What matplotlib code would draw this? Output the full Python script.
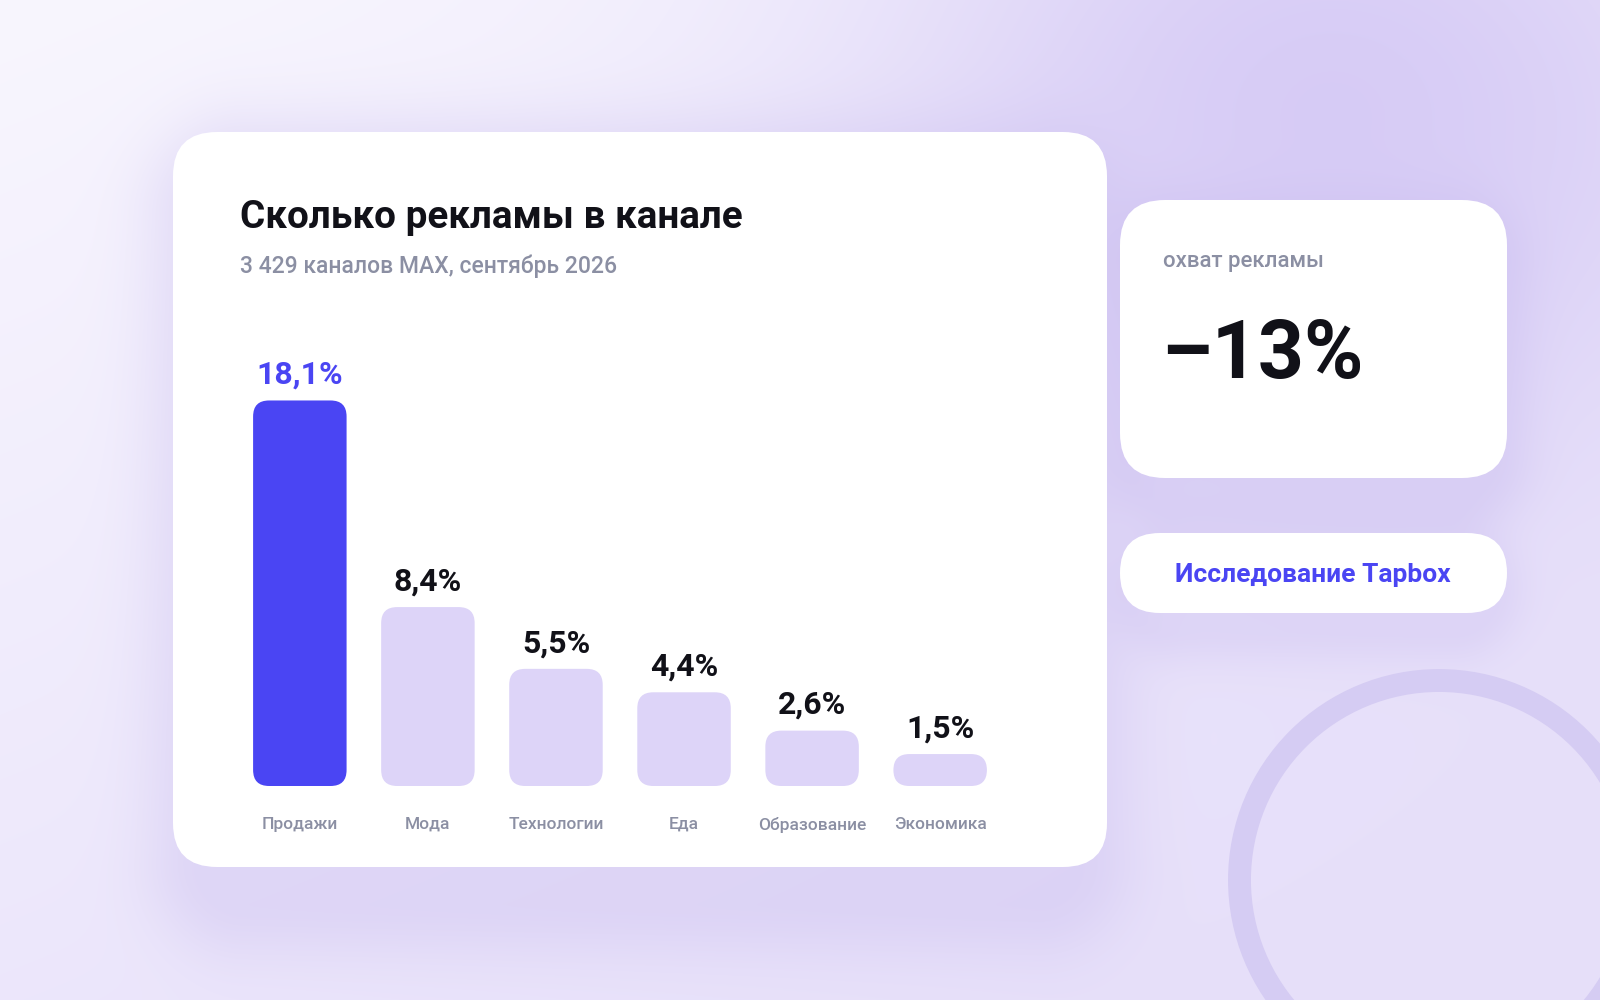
import numpy as np
import matplotlib
matplotlib.use("Agg")
import matplotlib.pyplot as plt
from matplotlib.patches import FancyBboxPatch, Circle

plt.rcParams['font.family'] = ['Roboto', 'DejaVu Sans']

# data
categories = ['Продажи', 'Мода', 'Технологии', 'Еда', 'Образование', 'Экономика']
values = [18.1, 8.4, 5.5, 4.4, 2.6, 1.5]
value_labels = ['18,1%', '8,4%', '5,5%', '4,4%', '2,6%', '1,5%']
title = 'Сколько рекламы в канале'
subtitle = '3 429 каналов MAX, сентябрь 2026'
kpi_caption = 'охват рекламы'
kpi_value = '–13%'
badge_text = 'Исследование Tapbox'

BLUE = '#4A45F3'
LILAC = '#DDD4F8'
GREY = '#8B8FA3'
INK = '#111118'

W, H = 1600, 1000
fig = plt.figure(figsize=(16, 10), dpi=100)

# background (pixel coords, y down)
bg = fig.add_axes([0, 0, 1, 1])
bg.set_xlim(0, W)
bg.set_ylim(H, 0)
bg.axis('off')

yy, xx = np.mgrid[0:H, 0:W].astype(float)
light = np.array([248, 246, 254]) / 255
low = np.array([231, 224, 250]) / 255
purple = np.array([212, 200, 245]) / 255
t = np.clip(yy / H * 0.7 + xx / W * 0.45, 0, 1)[..., None]
img = light * (1 - t) + low * t
blob = np.exp(-((xx - 1330) ** 2 + ((yy - 110) * 1.2) ** 2) / (2 * 330 ** 2))[..., None]
img = img * (1 - 0.9 * blob) + purple * 0.9 * blob


def rr_dist(x0, y0, x1, y1, r):
    dx = np.maximum.reduce([x0 + r - xx, np.zeros_like(xx), xx - (x1 - r)])
    dy = np.maximum.reduce([y0 + r - yy, np.zeros_like(yy), yy - (y1 - r)])
    return np.sqrt(dx ** 2 + dy ** 2) - r


shadow_col = np.array([200, 187, 238]) / 255
for (x0, y0, x1, y1, r, off, s, a) in [(200, 132, 1080, 867, 44, 36, 42, 0.38),
                                       (1135, 200, 1492, 478, 45, 24, 30, 0.4),
                                       (1135, 533, 1492, 613, 40, 18, 24, 0.3)]:
    d = np.maximum(rr_dist(x0, y0 + off, x1, y1 + off, r), 0)
    al = (a * np.exp(-d ** 2 / (2 * s ** 2)))[..., None]
    img = img * (1 - al) + shadow_col * al

bg.imshow(img, extent=(0, W, H, 0), aspect='auto', zorder=0, interpolation='bilinear')

# ring decoration
bg.add_patch(Circle((1439, 880), 199.5, fill=False, lw=16.5, ec='#D5CCF3', zorder=1))

# cards
for (x0, y0, x1, y1, r) in [(173, 132, 1107, 867, 44),
                            (1120, 200, 1507, 478, 45),
                            (1120, 533, 1507, 613, 40)]:
    bg.add_patch(FancyBboxPatch((x0, y0), x1 - x0, y1 - y0,
                                boxstyle=f'round,pad=0,rounding_size={r}',
                                fc='white', ec='none', zorder=2))

bg.text(240, 228, title, fontsize=27.8, fontweight='bold', color=INK, zorder=3)
bg.text(240, 273, subtitle, fontsize=16.5, fontweight='medium', color=GREY, zorder=3)

bg.text(1163, 267, kpi_caption, fontsize=16, fontweight='medium', color=GREY, zorder=3)
bg.text(1161, 378, kpi_value, fontsize=58, fontweight='bold', color=INK, zorder=3)
bg.text(1313, 582, badge_text, fontsize=19, fontweight='bold', color=BLUE,
        ha='center', zorder=3)

# bar chart
ax = fig.add_axes([223 / W, (H - 786) / H, (1017 - 223) / W, 426 / H])
ax.set_xlim(-0.6, 5.6)
ax.set_ylim(0, 20)
ax.patch.set_alpha(0)
for sp in ax.spines.values():
    sp.set_visible(False)
ax.set_yticks([])
ax.set_xticks(range(len(categories)), categories, fontsize=12.5, color=GREY,
              fontweight='medium')
ax.tick_params(axis='x', length=0, pad=22)

colors = [BLUE] + [LILAC] * (len(values) - 1)
bars = ax.bar(range(len(values)), values, width=0.73, color=colors)

# swap plain bars for rounded ones
fig.canvas.draw()
px = ax.transData.transform([(0, 0), (1, 1)])
ux, uy = px[1] - px[0]
aspect = ux / uy
rad = 16 / ux
for b, c in zip(bars, colors):
    b.set_visible(False)
    h = b.get_height()
    rs = min(rad, h / aspect / 2)
    ax.add_patch(FancyBboxPatch((b.get_x(), 0), b.get_width(), h,
                                boxstyle=f'round,pad=0,rounding_size={rs}',
                                mutation_aspect=aspect, fc=c, ec='none'))

for i, (v, lab) in enumerate(zip(values, value_labels)):
    ax.annotate(lab, (i, v), xytext=(0, 12), textcoords='offset points',
                ha='center', va='baseline', fontsize=23, fontweight='bold',
                color=BLUE if i == 0 else INK)

fig.savefig('out.png', dpi=100)
